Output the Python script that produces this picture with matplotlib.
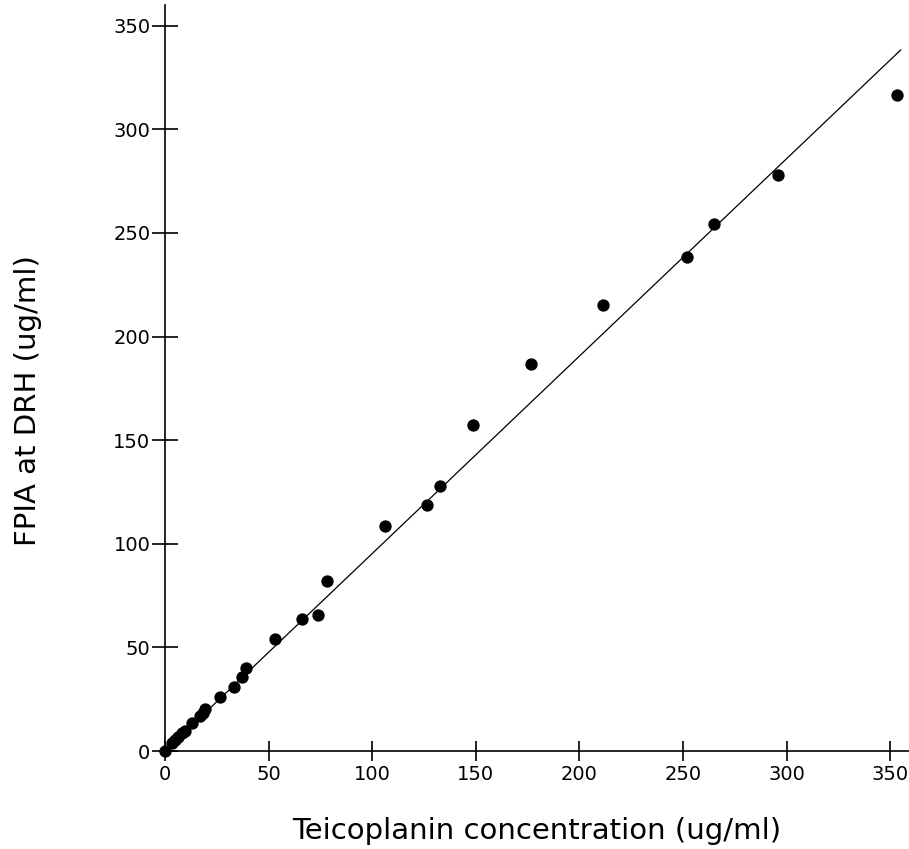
import numpy as np
import matplotlib
matplotlib.use("Agg")
import matplotlib.pyplot as plt

# Teicoplanin concentration (x) vs FPIA at DRH (y)
conc = [0, 3.2, 4.8, 6.4, 8.0, 9.6, 13.2, 16.9, 18.2, 19.3, 26.5, 33.3, 37.0, 38.9,
        53.0, 66.0, 73.9, 78.0, 106.0, 126.2, 132.9, 148.7, 176.5, 211.2,
        251.8, 264.9, 295.7, 353.3]
fpia = [0, 4.0, 5.3, 6.9, 8.5, 9.6, 13.7, 16.9, 18.2, 20.1, 26.2, 31.0, 35.5, 40.3,
        54.3, 63.5, 65.8, 82.0, 108.8, 118.9, 127.9, 157.2, 186.6, 215.0,
        238.3, 254.4, 278.2, 316.6]

# regression line
slope = 0.953
intercept = 0.0
line_x = [0, 355]

x_ticks = [0, 50, 100, 150, 200, 250, 300, 350]
y_ticks = [0, 50, 100, 150, 200, 250, 300, 350]

plt.rcParams['font.family'] = ['DejaVu Sans']

fig = plt.figure(figsize=(9.09, 8.49), dpi=100)
ax = fig.add_axes([0.1815, 0.1154, 0.8185, 0.8787])

ax.scatter(conc, fpia, s=62, color='black', zorder=3, clip_on=False)
lx = np.array(line_x)
ax.plot(lx, slope * lx + intercept, color='black', lw=0.9)

ax.set_xlim(0, 359)
ax.set_ylim(0, 360)
ax.set_xticks(x_ticks)
ax.set_yticks(y_ticks)

for s in ['top', 'right']:
    ax.spines[s].set_visible(False)
for s in ['left', 'bottom']:
    ax.spines[s].set_linewidth(1.2)

ax.tick_params(axis='y', direction='inout', length=19, width=1.2, pad=1, labelsize=14)
ax.tick_params(axis='x', direction='inout', length=14, width=1.2, pad=3, labelsize=14)

ax.set_xlabel('Teicoplanin concentration (ug/ml)', fontsize=21, labelpad=24)
ax.set_ylabel('FPIA at DRH (ug/ml)', fontsize=21)
ax.yaxis.set_label_coords(-0.165, 0.47)

fig.savefig('out.png', dpi=100)
